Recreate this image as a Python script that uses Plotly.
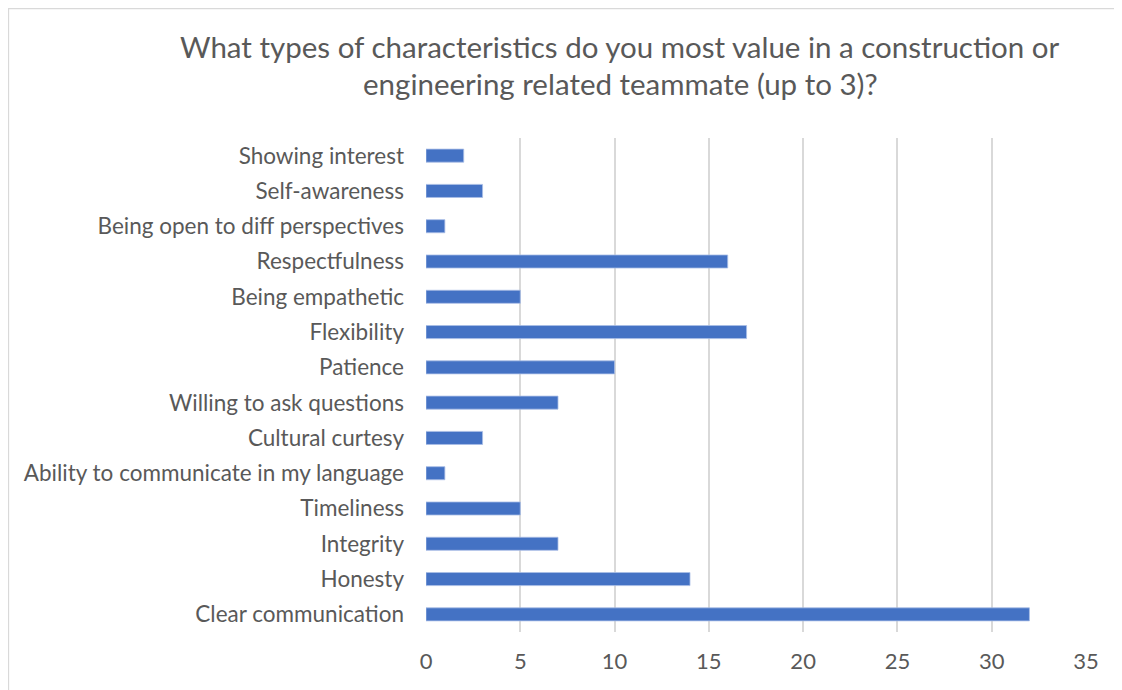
import plotly.graph_objects as go

categories = [
    "Clear communication",
    "Honesty",
    "Integrity",
    "Timeliness",
    "Ability to communicate in my language",
    "Cultural curtesy",
    "Willing to ask questions",
    "Patience",
    "Flexibility",
    "Being empathetic",
    "Respectfulness",
    "Being open to diff perspectives",
    "Self-awareness",
    "Showing interest",
]
values = [32, 14, 7, 5, 1, 3, 7, 10, 17, 5, 16, 1, 3, 2]
x_ticks = [0, 5, 10, 15, 20, 25, 30, 35]

title_lines = [
    "What types of characteristics do you most value in a construction or",
    "engineering related teammate (up to 3)?",
]

# page body has an 8px margin; figure placed at (8,8)
W, H = 1114, 682
L, T = 418, 130
R = W - (1086 - 8)
B = H - (632 - 8)
pw = W - L - R
ph = H - T - B

FONT = "Lato, Open Sans, sans-serif"
GREY = "#595959"

fig = go.Figure(go.Bar(
    x=values, y=categories, orientation="h",
    marker=dict(color="#4472C4", line=dict(color="#A9BEE6", width=0.8)),
    hoverinfo="x+y",
))

def px_to_paper_x(px):
    return (px - L) / pw

def px_to_paper_y(py):
    return (H - B - py) / ph

annotations = []
for txt, yc in zip(title_lines, [46 - 8, 84 - 8]):
    annotations.append(dict(
        text=txt, xref="paper", yref="paper",
        x=px_to_paper_x(620 - 8), y=px_to_paper_y(yc),
        xanchor="center", yanchor="middle", showarrow=False,
        font=dict(size=29.5, color=GREY, family=FONT),
    ))

fig.update_layout(
    width=W, height=H,
    margin=dict(l=L, r=R, t=T, b=B),
    paper_bgcolor="white", plot_bgcolor="white",
    bargap=0.63,
    showlegend=False,
    font=dict(family=FONT, color=GREY),
    annotations=annotations,
    xaxis=dict(
        range=[0, 35], tickvals=x_ticks, showgrid=True, gridcolor="#D9D9D9",
        gridwidth=1.5, zeroline=False, showline=False, ticks="",
        tickfont=dict(size=22, color=GREY), ticklabelstandoff=14,
        fixedrange=True,
    ),
    yaxis=dict(
        showgrid=False, zeroline=False, showline=False, ticks="",
        tickfont=dict(size=22.5, color=GREY), ticklabelstandoff=21,
        categoryorder="array", categoryarray=categories,
    ),
    shapes=[dict(
        type="rect", xref="paper", yref="paper",
        x0=px_to_paper_x(0.5), x1=px_to_paper_x(W - 1),
        y0=px_to_paper_y(H + 20), y1=px_to_paper_y(0.5),
        line=dict(color="#D9D9D9", width=1.3), fillcolor="rgba(0,0,0,0)", layer="below",
    )],
)

fig.write_html("out.html")
